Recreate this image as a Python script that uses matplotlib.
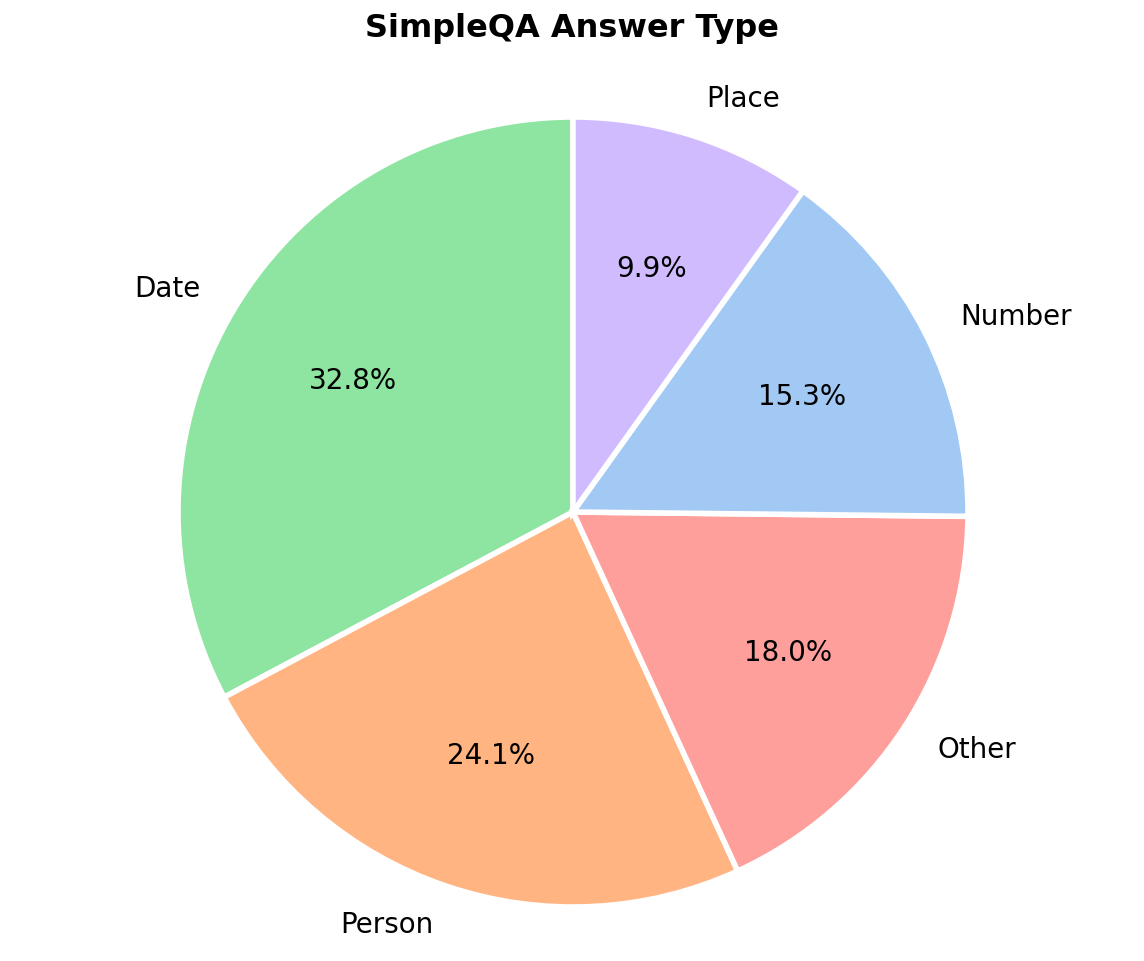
import matplotlib
matplotlib.use('Agg')
import matplotlib.pyplot as plt

# ----------------------------------------------------------------------
# DATA
# ----------------------------------------------------------------------
labels = ['Date', 'Person', 'Other', 'Number', 'Place']
shares = [32.8, 24.1, 18.0, 15.3, 9.9]
colors = ['#8de5a1', '#ffb482', '#ff9f9b', '#a1c9f4', '#d0bbff']
# ----------------------------------------------------------------------

W, H = 1144, 962
fig = plt.figure(figsize=(W / 100, H / 100), dpi=100)

# square axes so the pie sits centred at (573, 513) px with radius ~395 px
lim = 1.2
side = 2 * lim * 395
cx, cy = 573, H - 513
ax = fig.add_axes([(cx - side / 2) / W, (cy - side / 2) / H, side / W, side / H])

wedges, texts, autotexts = ax.pie(
    shares,
    labels=labels,
    colors=colors,
    autopct='%1.1f%%',
    startangle=90,
    counterclock=True,
    pctdistance=0.65,
    labeldistance=1.1,
    wedgeprops={'edgecolor': 'white', 'linewidth': 4},
    textprops={'fontsize': 20},
)
ax.set_xlim(-lim, lim)
ax.set_ylim(-lim, lim)
ax.set_aspect('equal')
ax.axis('off')

fig.text(0.5, 1 - 28 / H, 'SimpleQA Answer Type', fontsize=23, fontweight='bold',
         ha='center', va='center')
plt.savefig('out.png')
plt.close()
